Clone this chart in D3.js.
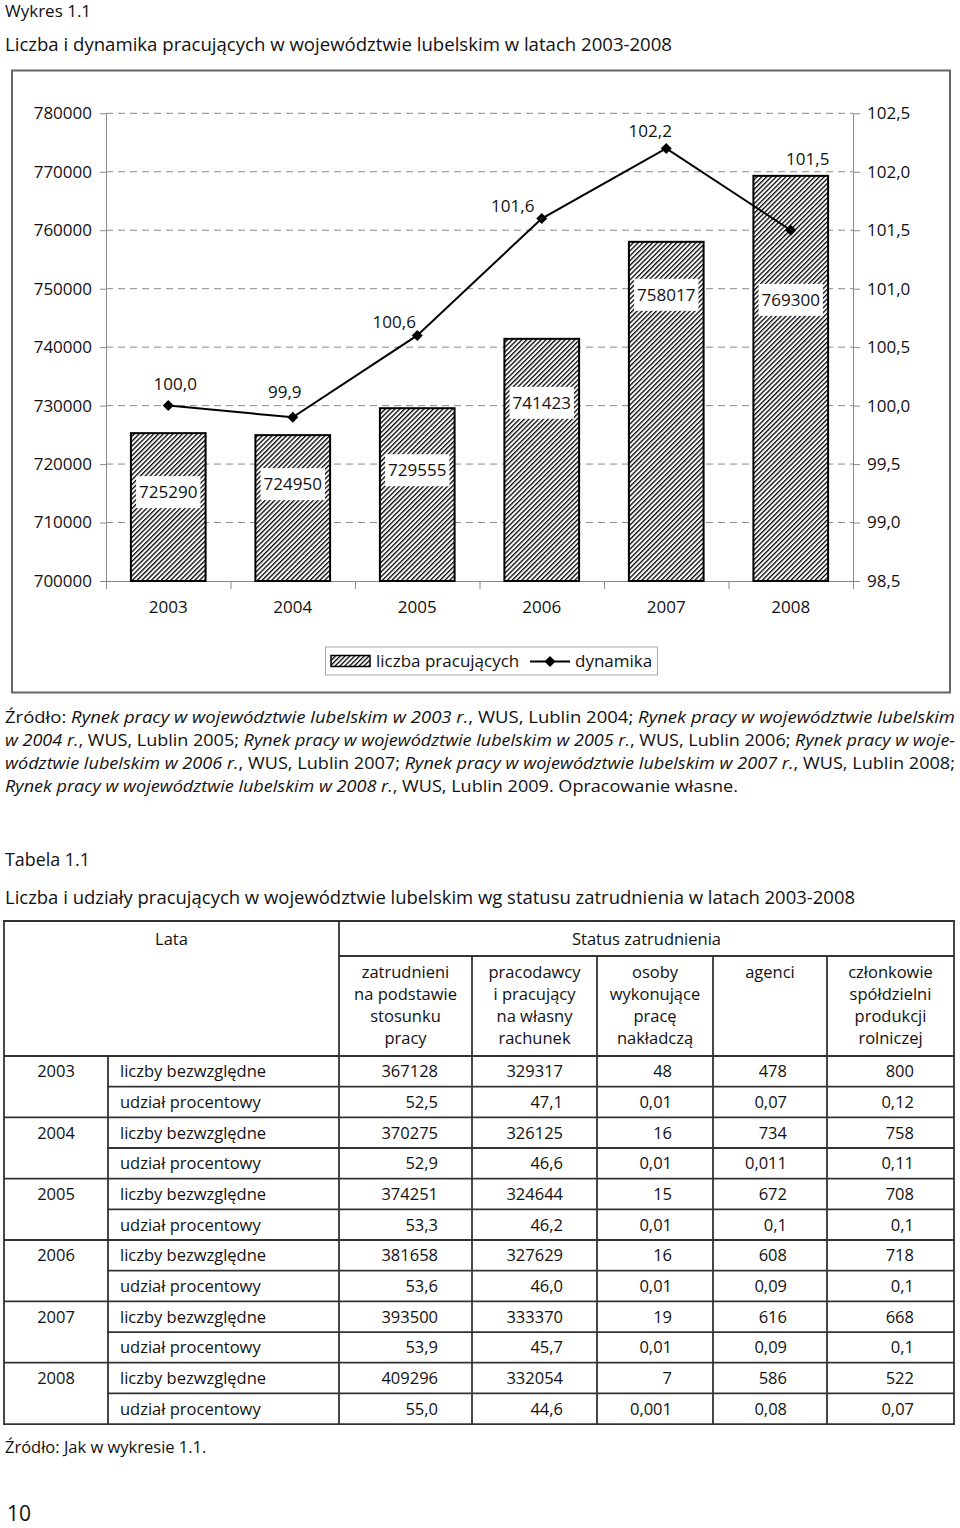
<!DOCTYPE html>
<html>
<head>
<meta charset="utf-8">
<script src="https://cdn.jsdelivr.net/npm/d3@7"></script>
<style>
  body{ margin:0; background:#fff; }
  text{ font-family:"Open Sans", "DejaVu Sans", sans-serif; fill:#111; }
</style>
</head>
<body>
<svg id="page" width="960" height="1528"></svg>
<script>

// Chart data.
const years = [ '2003', '2004', '2005', '2006', '2007', '2008' ];
const workers = [ 725290, 724950, 729555, 741423, 758017, 769300 ];
const dynamics = [ 100.0, 99.9, 100.6, 101.6, 102.2, 101.5 ];
const leftTicks = [ 700000, 710000, 720000, 730000, 740000, 750000, 760000, 770000, 780000 ];
const rightTicks = [ 98.5, 99.0, 99.5, 100.0, 100.5, 101.0, 101.5, 102.0, 102.5 ];

// Table data.
const tableYears = [ '2003', '2004', '2005', '2006', '2007', '2008' ];
const rowLabels = [ 'liczby bezwzględne', 'udział procentowy' ];
const statusCols = [
  [ 'zatrudnieni', 'na podstawie', 'stosunku', 'pracy' ],
  [ 'pracodawcy', 'i pracujący', 'na własny', 'rachunek' ],
  [ 'osoby', 'wykonujące', 'pracę', 'nakładczą' ],
  [ 'agenci' ],
  [ 'członkowie', 'spółdzielni', 'produkcji', 'rolniczej' ]
];
const absValues = [
  [ 367128, 329317, 48, 478, 800 ],
  [ 370275, 326125, 16, 734, 758 ],
  [ 374251, 324644, 15, 672, 708 ],
  [ 381658, 327629, 16, 608, 718 ],
  [ 393500, 333370, 19, 616, 668 ],
  [ 409296, 332054, 7, 586, 522 ]
];
const pctValues = [
  [ '52,5', '47,1', '0,01', '0,07', '0,12' ],
  [ '52,9', '46,6', '0,01', '0,011', '0,11' ],
  [ '53,3', '46,2', '0,01', '0,1', '0,1' ],
  [ '53,6', '46,0', '0,01', '0,09', '0,1' ],
  [ '53,9', '45,7', '0,01', '0,09', '0,1' ],
  [ '55,0', '44,6', '0,001', '0,08', '0,07' ]
];

// Source note, split in printed lines: [ text, italic ].
const sourceLines = [
  [ [ 'Źródło: ', 0 ], [ 'Rynek pracy w województwie lubelskim w 2003 r.', 1 ], [ ', WUS, Lublin 2004; ', 0 ], [ 'Rynek pracy w województwie lubelskim', 1 ] ],
  [ [ 'w 2004 r.', 1 ], [ ', WUS, Lublin 2005; ', 0 ], [ 'Rynek pracy w województwie lubelskim w 2005 r.', 1 ], [ ', WUS, Lublin 2006; ', 0 ], [ 'Rynek pracy w woje-', 1 ] ],
  [ [ 'wództwie lubelskim w 2006 r.', 1 ], [ ', WUS, Lublin 2007; ', 0 ], [ 'Rynek pracy w województwie lubelskim w 2007 r.', 1 ], [ ', WUS, Lublin 2008;', 0 ] ],
  [ [ 'Rynek pracy w województwie lubelskim w 2008 r.', 1 ], [ ', WUS, Lublin 2009. Opracowanie własne.', 0 ] ]
];

const svg = d3.select( '#page' );
const commaFmt = d3.formatLocale( { decimal: ',', thousands: '', grouping: [3], currency: ['', ''] } ).format( '.1f' );

// Headings above the chart.
svg.append( 'text' ).attr( 'x', 5 ).attr( 'y', 17 ).attr( 'font-size', 17 ).text( 'Wykres 1.1' );
svg.append( 'text' ).attr( 'x', 5 ).attr( 'y', 51 ).attr( 'font-size', 19 )
  .attr( 'textLength', 667 ).attr( 'lengthAdjust', 'spacingAndGlyphs' )
  .text( 'Liczba i dynamika pracujących w województwie lubelskim w latach 2003-2008' );

// Chart frame.
svg.append( 'rect' )
  .attr( 'x', 12 ).attr( 'y', 70.5 ).attr( 'width', 938 ).attr( 'height', 622 )
  .attr( 'fill', 'none' ).attr( 'stroke', '#666' ).attr( 'stroke-width', 2 );

// Hatch pattern for the bars.
const defs = svg.append( 'defs' );
const hatch = defs.append( 'pattern' )
  .attr( 'id', 'hatch' )
  .attr( 'patternUnits', 'userSpaceOnUse' )
  .attr( 'width', 3.4 ).attr( 'height', 3.4 )
  .attr( 'patternTransform', 'rotate(45)' );
hatch.append( 'rect' ).attr( 'width', 3.4 ).attr( 'height', 3.4 ).attr( 'fill', '#fff' );
hatch.append( 'rect' ).attr( 'width', 1.3 ).attr( 'height', 3.4 ).attr( 'fill', '#000' );

// Scales.
const plot = { left: 106, right: 853, top: 113.3, bottom: 581 };
const x = d3.scaleBand().domain( years ).range( [ plot.left, plot.right ] ).paddingInner( 0.4 ).paddingOuter( 0.2 );
const xEdge = d3.scaleLinear().domain( [ 0, years.length ] ).range( [ plot.left, plot.right ] );
const yL = d3.scaleLinear().domain( [ 700000, 780000 ] ).range( [ plot.bottom, plot.top ] );
const yR = d3.scaleLinear().domain( [ 98.5, 102.5 ] ).range( [ plot.bottom, plot.top ] );
const cx = d => x( d ) + x.bandwidth() / 2;

const chart = svg.append( 'g' );

// Dashed gridlines.
chart.append( 'g' ).selectAll( 'line' )
  .data( leftTicks.slice( 1 ) )
  .enter().append( 'line' )
    .attr( 'x1', plot.left ).attr( 'x2', plot.right )
    .attr( 'y1', d => yL( d ) ).attr( 'y2', d => yL( d ) )
    .attr( 'stroke', '#8a8a8a' ).attr( 'stroke-width', 1 )
    .attr( 'stroke-dasharray', '7,5' );

// Axes.
function styleAxis( g ){
  g.selectAll( '.domain' ).attr( 'stroke', '#8a8a8a' );
  g.selectAll( '.tick line' ).attr( 'stroke', '#8a8a8a' );
  g.selectAll( 'text' ).attr( 'font-size', 17 ).attr( 'font-family', null ).attr( 'fill', '#111' );
  g.attr( 'font-family', null );
}
chart.append( 'g' )
  .attr( 'transform', 'translate(' + plot.left + ',0)' )
  .call( d3.axisLeft( yL ).tickValues( leftTicks ).tickFormat( d3.format( 'd' ) ).tickSize( 6 ).tickSizeOuter( 0 ).tickPadding( 8 ) )
  .call( styleAxis );
chart.append( 'g' )
  .attr( 'transform', 'translate(' + plot.right + ',0)' )
  .call( d3.axisRight( yR ).tickValues( rightTicks ).tickFormat( commaFmt ).tickSize( 7 ).tickSizeOuter( 0 ).tickPadding( 7 ) )
  .call( styleAxis );
chart.append( 'g' )
  .attr( 'transform', 'translate(0,' + plot.bottom + ')' )
  .call( d3.axisBottom( xEdge ).tickValues( d3.range( years.length + 1 ) ).tickFormat( '' ).tickSize( 8 ).tickSizeOuter( 0 ) )
  .call( styleAxis );
chart.append( 'g' )
  .attr( 'transform', 'translate(0,' + plot.bottom + ')' )
  .call( d3.axisBottom( x ).tickSize( 0 ).tickPadding( 20 ) )
  .call( styleAxis )
  .call( g => g.select( '.domain' ).remove() );

// Bars.
chart.append( 'g' ).selectAll( 'rect' )
  .data( workers )
  .enter().append( 'rect' )
    .attr( 'x', ( d, i ) => x( years[i] ) )
    .attr( 'y', d => yL( d ) )
    .attr( 'width', x.bandwidth() )
    .attr( 'height', d => plot.bottom - yL( d ) )
    .attr( 'fill', 'url(#hatch)' )
    .attr( 'stroke', '#000' ).attr( 'stroke-width', 2 );

// Bar value labels on white patches (offsets below bar top, as placed in the original).
const barLabelDrop = [ 59, 49, 62, 64, 53, 124 ];
const barLabels = chart.append( 'g' ).selectAll( 'g' )
  .data( workers )
  .enter().append( 'g' )
    .attr( 'transform', ( d, i ) => 'translate(' + cx( years[i] ) + ',' + ( yL( d ) + barLabelDrop[i] ) + ')' );
barLabels.append( 'text' )
  .attr( 'text-anchor', 'middle' ).attr( 'dy', '0.36em' ).attr( 'font-size', 17 )
  .text( d => d );
barLabels.each( function(){
  const g = d3.select( this );
  const bb = g.select( 'text' ).node().getBBox();
  g.insert( 'rect', 'text' )
    .attr( 'x', bb.x - 3 ).attr( 'y', -16 )
    .attr( 'width', bb.width + 6 ).attr( 'height', 32 )
    .attr( 'fill', '#fff' );
} );

// Dynamics line.
const line = d3.line()
  .x( ( d, i ) => cx( years[i] ) )
  .y( d => yR( d ) );
chart.append( 'path' )
  .datum( dynamics )
  .attr( 'd', line )
  .attr( 'fill', 'none' ).attr( 'stroke', '#000' ).attr( 'stroke-width', 2 );
const diamond = 'M0,-5.5L5.5,0L0,5.5L-5.5,0Z';
chart.append( 'g' ).selectAll( 'path' )
  .data( dynamics )
  .enter().append( 'path' )
    .attr( 'd', diamond )
    .attr( 'transform', ( d, i ) => 'translate(' + cx( years[i] ) + ',' + yR( d ) + ')' )
    .attr( 'fill', '#000' );

// Line labels, nudged off the points like in the original.
const lineLabelShift = [ [ 7, -22 ], [ -8, -25 ], [ -23, -14 ], [ -29, -13 ], [ -16, -17 ], [ 17, -71 ] ];
chart.append( 'g' ).selectAll( 'text' )
  .data( dynamics )
  .enter().append( 'text' )
    .attr( 'x', ( d, i ) => cx( years[i] ) + lineLabelShift[i][0] )
    .attr( 'y', ( d, i ) => yR( d ) + lineLabelShift[i][1] )
    .attr( 'dy', '0.36em' ).attr( 'text-anchor', 'middle' ).attr( 'font-size', 17 )
    .text( d => commaFmt( d ) );

// Legend.
const legend = svg.append( 'g' );
legend.append( 'rect' )
  .attr( 'x', 325.5 ).attr( 'y', 647 ).attr( 'width', 332 ).attr( 'height', 28 )
  .attr( 'fill', '#fff' ).attr( 'stroke', '#aaa' ).attr( 'stroke-width', 1 );
legend.append( 'rect' )
  .attr( 'x', 331 ).attr( 'y', 655.5 ).attr( 'width', 39 ).attr( 'height', 11 )
  .attr( 'fill', 'url(#hatch)' ).attr( 'stroke', '#000' ).attr( 'stroke-width', 1.5 );
legend.append( 'text' ).attr( 'x', 376 ).attr( 'y', 667 ).attr( 'font-size', 17 ).text( 'liczba pracujących' );
legend.append( 'line' )
  .attr( 'x1', 530 ).attr( 'x2', 570 ).attr( 'y1', 661.5 ).attr( 'y2', 661.5 )
  .attr( 'stroke', '#000' ).attr( 'stroke-width', 2 );
legend.append( 'path' ).attr( 'd', diamond ).attr( 'transform', 'translate(550,661.5)' ).attr( 'fill', '#000' );
legend.append( 'text' ).attr( 'x', 575 ).attr( 'y', 667 ).attr( 'font-size', 17 ).text( 'dynamika' );

// Source note, justified line by line.
const srcBase = 723, srcStep = 23;
sourceLines.forEach( ( segs, li ) => {
  const t = svg.append( 'text' )
    .attr( 'x', 5 ).attr( 'y', srcBase + li * srcStep )
    .attr( 'font-size', 16.5 )
    .attr( 'textLength', li < sourceLines.length - 1 ? 950 : 733 )
    .attr( 'lengthAdjust', 'spacingAndGlyphs' );
  segs.forEach( s => {
    t.append( 'tspan' ).attr( 'font-style', s[1] ? 'italic' : 'normal' ).text( s[0] );
  } );
} );

// Table headings.
svg.append( 'text' ).attr( 'x', 5 ).attr( 'y', 866 ).attr( 'font-size', 18.5 )
  .attr( 'textLength', 85 ).attr( 'lengthAdjust', 'spacingAndGlyphs' ).text( 'Tabela 1.1' );
svg.append( 'text' ).attr( 'x', 5 ).attr( 'y', 904 ).attr( 'font-size', 19 )
  .attr( 'textLength', 850 ).attr( 'lengthAdjust', 'spacingAndGlyphs' )
  .text( 'Liczba i udziały pracujących w województwie lubelskim wg statusu zatrudnienia w latach 2003-2008' );

// Table geometry.
const colX = [ 4, 108, 339, 472, 597, 713, 827, 954 ];
const valueRight = [ 438, 563, 672, 787, 914 ];
const tTop = 921, tStatus = 956, tHead = 1056, rowH = 30.67;
const nRows = tableYears.length * 2;
const tBottom = tHead + nRows * rowH;
const fs = 16.5;
const table = svg.append( 'g' );
const rule = ( x1, y1, x2, y2 ) => table.append( 'line' )
  .attr( 'x1', x1 ).attr( 'y1', y1 ).attr( 'x2', x2 ).attr( 'y2', y2 )
  .attr( 'stroke', '#333' ).attr( 'stroke-width', 1.8 ).attr( 'stroke-linecap', 'square' );

rule( colX[0], tTop, colX[7], tTop );
rule( colX[2], tStatus, colX[7], tStatus );
rule( colX[0], tHead, colX[7], tHead );
d3.range( 1, nRows + 1 ).forEach( r => {
  const y = tHead + r * rowH;
  rule( r % 2 ? colX[1] : colX[0], y, colX[7], y );
} );
rule( colX[0], tTop, colX[0], tBottom );
rule( colX[1], tHead, colX[1], tBottom );
rule( colX[2], tTop, colX[2], tBottom );
[ 3, 4, 5, 6 ].forEach( c => rule( colX[c], tStatus, colX[c], tBottom ) );
rule( colX[7], tTop, colX[7], tBottom );

table.append( 'text' ).attr( 'x', ( colX[0] + colX[2] ) / 2 ).attr( 'y', 945 )
  .attr( 'text-anchor', 'middle' ).attr( 'font-size', fs ).text( 'Lata' );
table.append( 'text' ).attr( 'x', ( colX[2] + colX[7] ) / 2 ).attr( 'y', 945 )
  .attr( 'text-anchor', 'middle' ).attr( 'font-size', fs ).text( 'Status zatrudnienia' );
statusCols.forEach( ( lines, c ) => {
  lines.forEach( ( l, k ) => {
    table.append( 'text' )
      .attr( 'x', ( colX[c + 2] + colX[c + 3] ) / 2 ).attr( 'y', 978 + k * 22 )
      .attr( 'text-anchor', 'middle' ).attr( 'font-size', fs ).text( l );
  } );
} );

tableYears.forEach( ( yr, i ) => {
  const rows = [ absValues[i].map( String ), pctValues[i] ];
  rows.forEach( ( vals, k ) => {
    const base = tHead + ( i * 2 + k ) * rowH + rowH / 2 + 6;
    if( k === 0 ){
      table.append( 'text' ).attr( 'x', ( colX[0] + colX[1] ) / 2 ).attr( 'y', base )
        .attr( 'text-anchor', 'middle' ).attr( 'font-size', fs ).text( yr );
    }
    table.append( 'text' ).attr( 'x', 120 ).attr( 'y', base ).attr( 'font-size', fs ).text( rowLabels[k] );
    vals.forEach( ( v, c ) => {
      table.append( 'text' ).attr( 'x', valueRight[c] ).attr( 'y', base )
        .attr( 'text-anchor', 'end' ).attr( 'font-size', fs ).text( v );
    } );
  } );
} );

svg.append( 'text' ).attr( 'x', 5 ).attr( 'y', 1453 ).attr( 'font-size', 16.5 ).text( 'Źródło: Jak w wykresie 1.1.' );
svg.append( 'text' ).attr( 'x', 7 ).attr( 'y', 1521 ).attr( 'font-size', 21 ).text( '10' );

</script>
</body>
</html>
